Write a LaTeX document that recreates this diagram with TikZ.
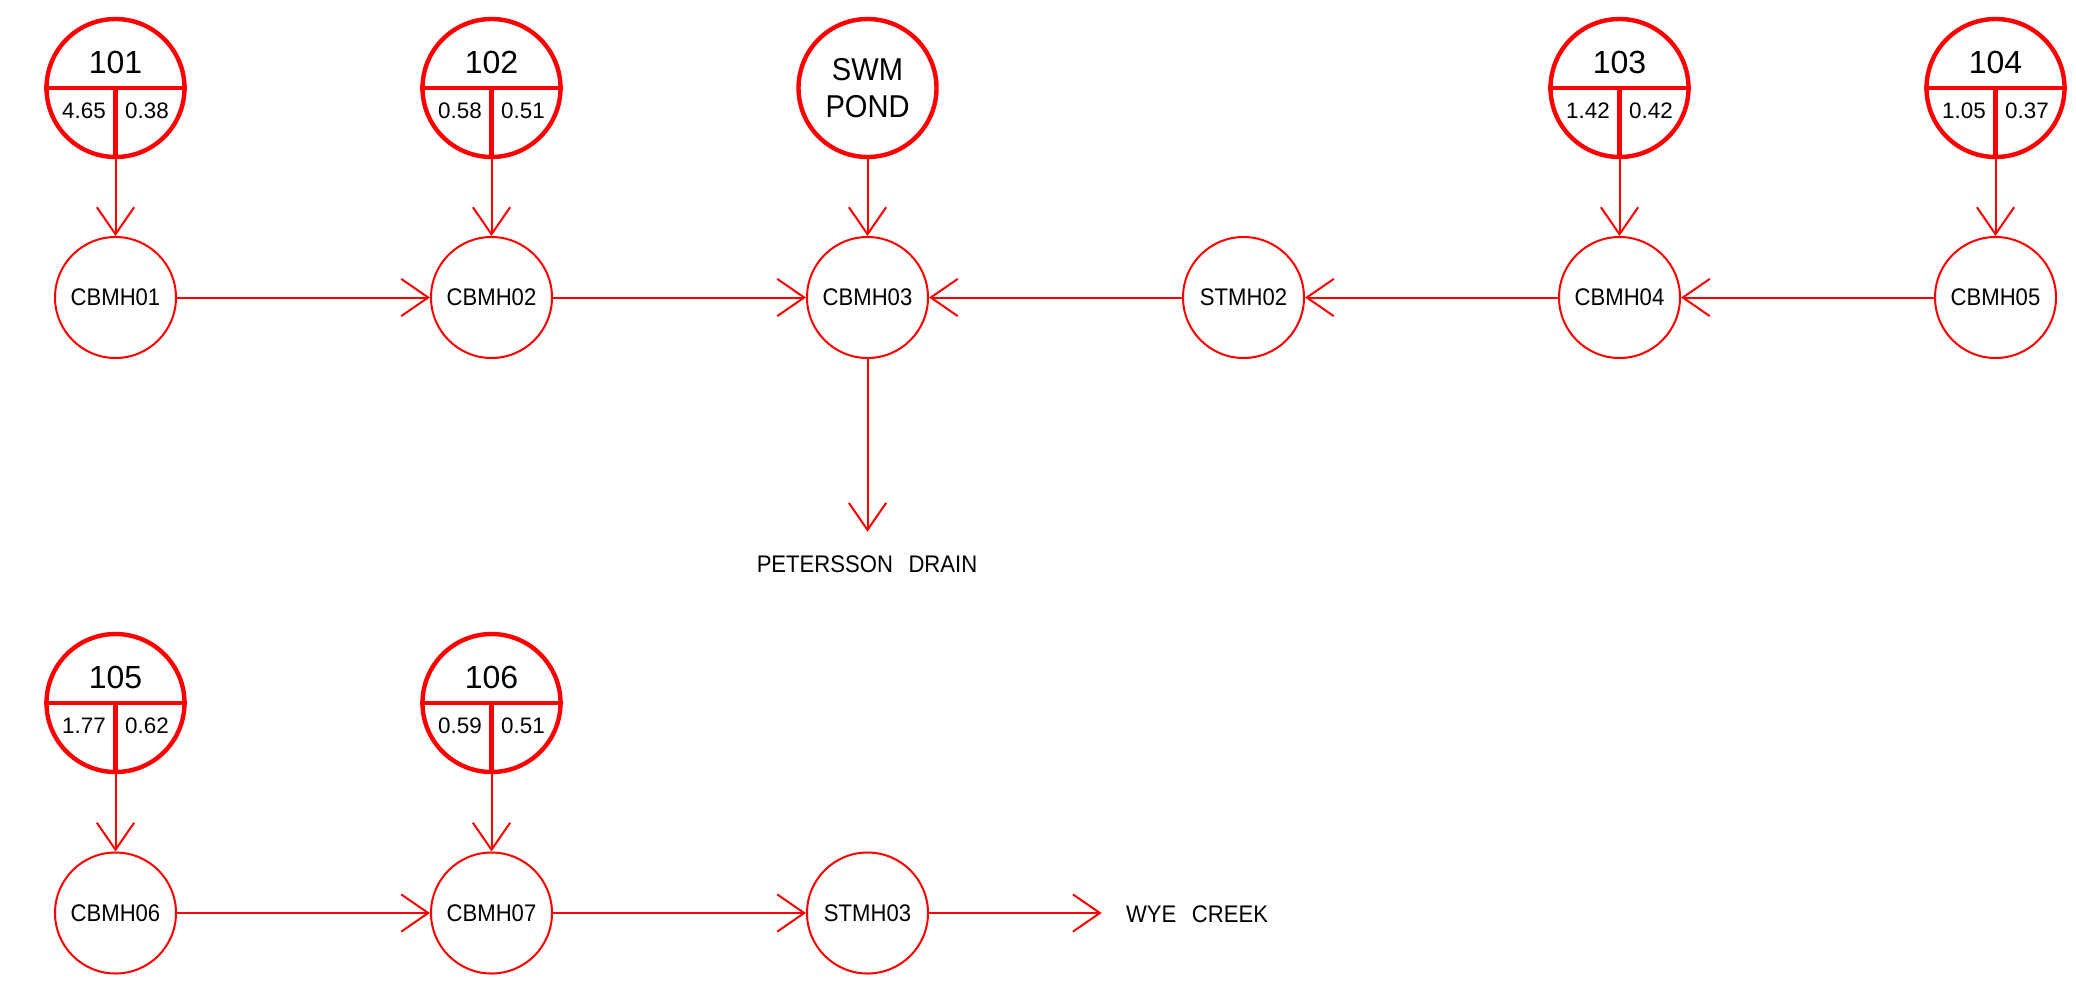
\documentclass[tikz,border=0pt]{standalone}
\usepackage{fontspec}
\setmainfont{Liberation Sans}
\newfontfamily\narrowfont{Liberation Sans}[FakeStretch=0.92]
\usetikzlibrary{arrows.meta}
\definecolor{pipe}{RGB}{255,0,0}

\begin{document}
\begin{tikzpicture}[x=0.5pt,y=-0.5pt,
  mh/.style={circle, draw=pipe, line width=1pt, minimum size=60.5pt, inner sep=0pt,
    font=\narrowfont\fontsize{12}{14}\selectfont},
  area/.style={circle, draw=pipe, line width=2.2pt, minimum size=69pt, inner sep=0pt},
  arealine/.style={draw=pipe, line width=2.2pt},
  flow/.style={draw=pipe, line width=1pt, -{Straight Barb[length=13.5pt,width=18.6pt]}},
  areanum/.style={inner sep=0pt, font=\fontsize{16}{18}\selectfont},
  areaval/.style={inner sep=0pt, font=\fontsize{11.2}{13}\selectfont},
  outlet/.style={inner sep=0pt, font=\narrowfont\fontsize{12}{14}\selectfont}
]
\useasboundingbox (0,0) rectangle (2076,997);

% manholes, upper network
\node[mh] (cbmh01) at (115.5,297.5) {CBMH01};
\node[mh] (cbmh02) at (491.5,297.5) {CBMH02};
\node[mh] (cbmh03) at (867.5,297.5) {CBMH03};
\node[mh] (stmh02) at (1243.5,297.5) {STMH02};
\node[mh] (cbmh04) at (1619.5,297.5) {CBMH04};
\node[mh] (cbmh05) at (1995.5,297.5) {CBMH05};

% manholes, lower network
\node[mh] (cbmh06) at (115.5,913) {CBMH06};
\node[mh] (cbmh07) at (491.5,913) {CBMH07};
\node[mh] (stmh03) at (867.5,913) {STMH03};

% pond inflow
\node[area, align=center, font=\narrowfont\fontsize{15.8}{18.75}\selectfont]
  (swm) at (867.5,88) {SWM\\POND};
\draw[flow] (swm.south) -- (cbmh03.north);

% drainage areas: id, area (ha), runoff coefficient
\foreach \nm/\x/\y/\num/\a/\b/\dest in {
    101/115.5/88/101/4.65/0.38/cbmh01,
    102/491.5/88/102/0.58/0.51/cbmh02,
    103/1619.5/88/103/1.42/0.42/cbmh04,
    104/1995.5/88/104/1.05/0.37/cbmh05,
    105/115.5/703/105/1.77/0.62/cbmh06,
    106/491.5/703/106/0.59/0.51/cbmh07}{
  \node[area] (a\nm) at (\x,\y) {};
  \draw[arealine] (a\nm.west) -- (a\nm.east) (a\nm.center) -- (a\nm.south);
  \node[areanum] (n\nm) at (\x,{\y-26}) {\num};
  \node[areaval] (l\nm) at ({\x-31.5},{\y+23}) {\a};
  \node[areaval] (r\nm) at ({\x+31.5},{\y+23}) {\b};
  \draw[flow] (a\nm.south) -- (\dest.north);
}

% upper network pipes
\draw[flow] (cbmh01) -- (cbmh02);
\draw[flow] (cbmh02) -- (cbmh03);
\draw[flow] (stmh02) -- (cbmh03);
\draw[flow] (cbmh04) -- (stmh02);
\draw[flow] (cbmh05) -- (cbmh04);
\coordinate (pdout) at (867.5,531.7);
\draw[flow] (cbmh03.south) -- (pdout);
\node[outlet] (pdlabel) at (867,564.5) {PETERSSON\hspace{0.65em}DRAIN};

% lower network pipes
\draw[flow] (cbmh06) -- (cbmh07);
\draw[flow] (cbmh07) -- (stmh03);
\coordinate (wyout) at (1101.7,913);
\draw[flow] (stmh03.east) -- (wyout);
\node[outlet] (wylabel) at (1197,914) {WYE\hspace{0.65em}CREEK};
\end{tikzpicture}
\end{document}
